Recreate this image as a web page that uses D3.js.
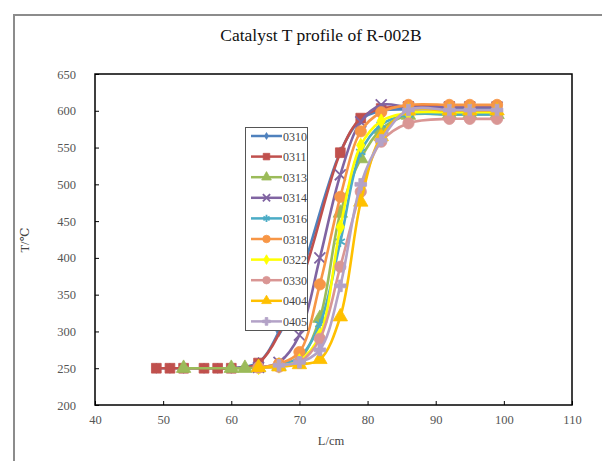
<!DOCTYPE html>
<html><head><meta charset="utf-8">
<script src="https://cdn.jsdelivr.net/npm/d3@7"></script>
<style>body{margin:0;background:#fff}svg{display:block}</style>
</head><body>
<svg id="c" width="602" height="461"></svg>
<script>
const seriesNames = ["0310","0311","0313","0314","0316","0318","0322","0330","0404","0405"];
const seriesColors = ["#4F81BD","#C0504D","#9BBB59","#8064A2","#4BACC6","#F79646","#FFFF00","#D99694","#FFC000","#B3A2C7"];
const L0310 = [49,51,53,56,58,60,64,67,70,76,79,82,86,92,95,99];
const T0310 = [250,250,250,250,250,250,258,300,370,544,588,600,602,602,602,602];
const L0311 = [49,51,53,56,58,60,64,70,76,79,82,86,92,95,99];
const T0311 = [250,250,250,250,250,250,257,362,543,590,603,606,606,606,606];
const L0313 = [53,60,62,64,67,70,73,76,79,82,86,92,95,99];
const T0313 = [250,250,250,251,253,262,318,461,535,575,594,595,595,595];
const L0314 = [64,67,70,73,76,79,82,86,92,95,99];
const T0314 = [251,258,295,400,513,585,608,605,605,605,605];
const L0316 = [64,67,70,73,76,79,82,86,92,95,99];
const T0316 = [251,255,265,310,422,544,581,595,595,595,595];
const L0318 = [64,67,70,73,76,79,82,86,92,95,99];
const T0318 = [251,256,272,364,483,572,598,608,608,608,608];
const L0322 = [64,67,70,73,76,79,82,86,92,95,99];
const T0322 = [251,253,260,295,442,553,586,597,598,598,598];
const L0330 = [64,67,70,73,76,79,82,86,92,95,99];
const T0330 = [251,252,258,290,388,490,558,583,589,589,589];
const L0404 = [64,67,70,73,76,79,82,86,92,95,99];
const T0404 = [251,252,255,262,320,476,565,600,600,600,600];
const L0405 = [67,70,73,76,79,82,86,92,95,99];
const T0405 = [254,258,275,362,500,560,601,601,601,601];
const xTicks = [40,50,60,70,80,90,100,110];
const yTicks = [200,250,300,350,400,450,500,550,600,650];

const Ls = [L0310,L0311,L0313,L0314,L0316,L0318,L0322,L0330,L0404,L0405];
const Ts = [T0310,T0311,T0313,T0314,T0316,T0318,T0322,T0330,T0404,T0405];
const series = seriesNames.map((n,i)=>({name:n,color:seriesColors[i],pts:Ls[i].map((l,j)=>({l:l,t:Ts[i][j]}))}));

const svg = d3.select("#c");
svg.append("rect").attr("width",602).attr("height",461).attr("fill","#fff");
svg.append("path").attr("d","M14,461 L14,15 L602,15").attr("fill","none").attr("stroke","#8c8c8c").attr("stroke-width",2);

const x = d3.scaleLinear().domain([40,110]).range([95,572]);
const y = d3.scaleLinear().domain([200,650]).range([405,74]);

svg.append("text").attr("x",321).attr("y",41).attr("text-anchor","middle")
  .attr("font-family","Liberation Serif, serif").attr("font-size",17.5).attr("fill","#111")
  .text("Catalyst T profile of R-002B");

const tickFont = "Liberation Serif, DejaVu Serif, serif";
const gx = svg.append("g").attr("transform","translate(0,405)")
  .call(d3.axisBottom(x).tickValues(xTicks).tickSizeInner(-4).tickSizeOuter(0).tickPadding(10));
const gy = svg.append("g").attr("transform","translate(95,0)")
  .call(d3.axisLeft(y).tickValues(yTicks).tickSizeInner(-4).tickSizeOuter(0).tickPadding(19));
[gx,gy].forEach(g=>{
  g.selectAll("text").attr("font-family",tickFont).attr("font-size",12.5).attr("fill","#555");
  g.selectAll("line").attr("stroke","#000");
  g.select(".domain").attr("stroke","none");
});
svg.append("rect").attr("x",x(40)).attr("y",y(650)).attr("width",x(110)-x(40)).attr("height",y(200)-y(650))
  .attr("fill","none").attr("stroke","#000").attr("stroke-width",1.5);

svg.append("text").attr("transform","translate(29,240) rotate(-90)").attr("text-anchor","middle")
  .attr("font-family",tickFont).attr("font-size",12.5).attr("fill","#444").text("T/℃");
svg.append("text").attr("x",331).attr("y",445).attr("text-anchor","middle")
  .attr("font-family",tickFont).attr("font-size",12.5).attr("fill","#444").text("L/cm");

const line = d3.line().x(d=>x(d.l)).y(d=>y(d.t)).curve(d3.curveCatmullRom.alpha(0.5));

const markerDefs = [
  {type:d3.symbolDiamond,size:30,stroke:false},
  {type:d3.symbolSquare,size:95,stroke:false},
  {type:d3.symbolTriangle,size:90,stroke:false},
  {type:d3.symbolX,size:80,stroke:true},
  {type:d3.symbolAsterisk,size:80,stroke:true},
  {type:d3.symbolCircle,size:100,stroke:false},
  {type:d3.symbolDiamond,size:60,stroke:false},
  {type:d3.symbolCircle,size:100,stroke:false},
  {type:d3.symbolTriangle,size:90,stroke:false},
  {type:d3.symbolCross,size:75,stroke:false}
];
function drawMarker(g,i,cx,cy,k){
  const m = markerDefs[i];
  const p = g.append("path").attr("d",d3.symbol().type(m.type).size(m.size*k)())
    .attr("transform",`translate(${cx},${cy})`);
  if(m.stroke) p.attr("fill","none").attr("stroke",series[i].color).attr("stroke-width",1.8);
  else p.attr("fill",series[i].color).attr("stroke",series[i].color).attr("stroke-width",0.8);
}

const plot = svg.append("g");
series.forEach((s,i)=>{
  const g = plot.append("g");
  g.append("path").datum(s.pts).attr("d",line).attr("fill","none")
    .attr("stroke",s.color).attr("stroke-width",2.6);
  s.pts.forEach(d=>drawMarker(g,i,x(d.l),y(d.t),1));
});

const lg = svg.append("g");
lg.append("rect").attr("x",245.5).attr("y",127.5).attr("width",62).attr("height",203)
  .attr("fill","#fff").attr("stroke","#555").attr("stroke-width",1);
series.forEach((s,i)=>{
  const yy = 136 + i*20.6;
  lg.append("line").attr("x1",251).attr("x2",282).attr("y1",yy).attr("y2",yy)
    .attr("stroke",s.color).attr("stroke-width",2.5);
  drawMarker(lg,i,266.5,yy,0.45);
  lg.append("text").attr("x",283).attr("y",yy+4.5).attr("font-family",tickFont)
    .attr("font-size",12).attr("fill","#444").text(s.name);
});
</script>
</body></html>
